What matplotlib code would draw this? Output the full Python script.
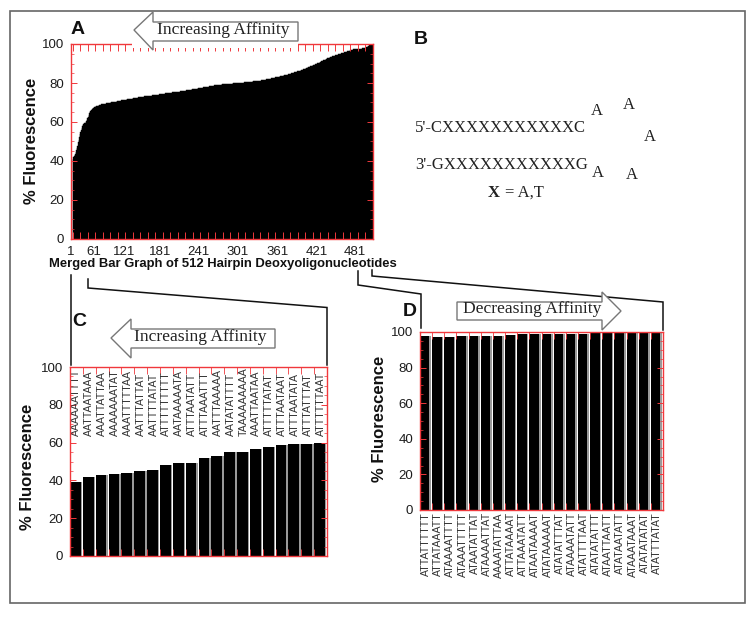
import numpy as np
import matplotlib
matplotlib.use("Agg")
from matplotlib import pyplot as plt
from matplotlib.patches import Polygon, Rectangle

W, H = 750, 617
SANS = "Liberation Sans"
SERIF = "Liberation Serif"
RED = "#f0383c"
TXT = "#1c1c1c"

# panel A, all 512 hairpins sorted by fluorescence
a_values = [
    41.0,41.8,42.5,43.2,43.8,44.5,45.5,46.5,47.8,49.5,51.0,52.5,54.0,55.0,56.0,57.0,58.0,58.6,59.0,59.2,
    59.4,59.6,60.0,60.6,61.2,62.0,62.8,63.6,64.4,65.0,65.5,66.0,66.4,66.8,67.0,67.2,67.4,67.6,67.8,68.0,
    68.1,68.2,68.3,68.4,68.5,68.6,68.7,68.8,68.9,69.0,69.0,69.1,69.2,69.2,69.3,69.4,69.4,69.5,69.6,69.6,
    69.7,69.7,69.8,69.9,69.9,70.0,70.1,70.1,70.2,70.2,70.3,70.4,70.4,70.5,70.5,70.6,70.7,70.7,70.8,70.8,
    70.9,71.0,71.0,71.1,71.1,71.2,71.2,71.3,71.4,71.4,71.5,71.5,71.6,71.6,71.7,71.7,71.8,71.8,71.9,71.9,
    72.0,72.0,72.1,72.1,72.2,72.2,72.3,72.3,72.4,72.4,72.5,72.5,72.6,72.6,72.7,72.7,72.8,72.8,72.9,72.9,
    73.0,73.0,73.1,73.1,73.1,73.2,73.2,73.3,73.3,73.3,73.4,73.4,73.5,73.5,73.5,73.6,73.6,73.7,73.7,73.8,
    73.8,73.9,73.9,74.0,74.0,74.1,74.1,74.2,74.2,74.3,74.3,74.4,74.4,74.4,74.5,74.5,74.6,74.6,74.7,74.7,
    74.8,74.8,74.8,74.9,74.9,75.0,75.0,75.0,75.1,75.1,75.2,75.2,75.2,75.3,75.3,75.3,75.4,75.4,75.4,75.5,
    75.5,75.6,75.6,75.7,75.7,75.8,75.8,75.9,75.9,76.0,76.0,76.1,76.1,76.2,76.2,76.3,76.3,76.4,76.4,76.5,
    76.5,76.6,76.6,76.7,76.7,76.8,76.8,76.9,76.9,77.0,77.0,77.1,77.1,77.2,77.2,77.3,77.4,77.4,77.5,77.5,
    77.6,77.6,77.7,77.7,77.8,77.8,77.9,77.9,78.0,78.0,78.1,78.1,78.2,78.3,78.3,78.4,78.5,78.5,78.6,78.7,
    78.7,78.8,78.8,78.9,78.9,79.0,79.0,79.0,79.1,79.1,79.1,79.2,79.2,79.2,79.3,79.3,79.3,79.4,79.4,79.4,
    79.4,79.5,79.5,79.5,79.5,79.6,79.6,79.6,79.6,79.7,79.7,79.7,79.7,79.8,79.8,79.8,79.8,79.9,79.9,79.9,
    79.9,80.0,80.0,80.0,80.1,80.1,80.1,80.1,80.2,80.2,80.2,80.2,80.3,80.3,80.3,80.4,80.4,80.4,80.5,80.5,
    80.5,80.6,80.6,80.6,80.7,80.7,80.7,80.8,80.8,80.8,80.9,80.9,80.9,81.0,81.0,81.0,81.1,81.1,81.1,81.2,
    81.2,81.3,81.3,81.4,81.4,81.5,81.5,81.6,81.7,81.7,81.8,81.9,81.9,82.0,82.1,82.2,82.2,82.3,82.4,82.4,
    82.5,82.6,82.7,82.7,82.8,82.9,82.9,83.0,83.1,83.1,83.2,83.3,83.3,83.4,83.5,83.5,83.6,83.7,83.7,83.8,
    83.9,83.9,84.0,84.1,84.1,84.2,84.3,84.4,84.5,84.5,84.6,84.7,84.8,84.9,85.0,85.1,85.2,85.3,85.4,85.5,
    85.6,85.7,85.8,85.9,86.0,86.1,86.2,86.3,86.4,86.5,86.6,86.8,86.9,87.0,87.1,87.3,87.4,87.5,87.6,87.8,
    87.9,88.0,88.1,88.3,88.4,88.5,88.6,88.8,88.9,89.0,89.1,89.3,89.4,89.5,89.7,89.8,90.0,90.1,90.3,90.4,
    90.5,90.7,90.8,91.0,91.1,91.3,91.4,91.6,91.7,91.9,92.0,92.2,92.3,92.5,92.6,92.8,92.9,93.0,93.1,93.3,
    93.4,93.5,93.6,93.7,93.8,93.9,94.0,94.1,94.2,94.3,94.4,94.5,94.6,94.7,94.8,94.9,95.0,95.1,95.2,95.3,
    95.4,95.5,95.6,95.7,95.8,95.9,96.0,96.1,96.2,96.3,96.4,96.5,96.6,96.7,96.8,96.9,97.0,97.1,97.2,97.3,
    97.3,97.3,97.3,97.4,97.4,97.4,97.4,97.4,97.5,97.5,97.5,97.5,97.5,97.6,97.7,97.8,98.0,98.0,98.0,98.2,
    98.7,98.7,98.7,99.0,99.0,99.0,99.5,99.5,99.8,99.8,99.8,100.0,
]
a_tick_labels = ["1", "61", "121", "181", "241", "301", "361", "421", "481"]
a_tick_pos = [-3, 36, 88, 149, 214, 281, 349, 417, 481]

c_values = [39, 42, 43, 43.5, 44, 45, 45.5, 48, 49, 49, 52, 53, 55, 55, 56.5, 57.5, 58.5, 59, 59, 60]
c_seqs = ["AAAAAATTTT", "AATTAATAAA", "AAATTATTAA", "AAAAAAATAT", "AAATTTTTAA",
          "AATTTATTAT", "AATTTTATAT", "ATTTTTTTTT", "AATAAAAATA", "ATTTAATATT",
          "ATTTAAATTT", "AATTTAAAAA", "AATATATTTT", "TAAAAAAAAA", "AAATTAATAA",
          "ATTTTTATAT", "ATTTAATAAT", "ATTTAATATA", "ATTTATTTAT", "ATTTTTTAAT"]

d_values = [97.5, 97.3, 97.2, 97.6, 98, 98, 98, 98.2, 98.7, 98.7,
            98.7, 99, 99, 99, 99.5, 99.5, 99.8, 99.8, 99.8, 99.9]
d_seqs = ["ATTATTTTTT", "ATTATAAATT", "ATAAAATTTT", "ATAAATTTTT", "ATAATATTAT",
          "ATAAAATTAT", "AAAATATTAA", "ATTATAAAAT", "ATTAAATATT", "ATAATAAAAT",
          "ATATAAAAAT", "ATATATTTAT", "ATAAAATATT", "ATATTTTAAT", "ATATATATTT",
          "ATAATTAATT", "ATATAATATT", "ATAAATAAAT", "ATATATATAT", "ATATTTATAT"]


def make_axes(fig, left, top, right, bottom):
    ax = fig.add_axes([left / W, 1 - bottom / H, (right - left) / W, (bottom - top) / H])
    ax.set_ylim(0, 100)
    ax.set_axisbelow(False)
    for s in ax.spines.values():
        s.set_color(RED)
        s.set_linewidth(1.0)
        s.set_zorder(6)
    ax.set_yticks(np.arange(0, 101, 20))
    ax.set_yticks(np.arange(0, 101, 5), minor=True)
    ax.tick_params(axis="y", which="major", direction="in", length=4, width=0.7, color=RED,
                   left=True, right=True, labelsize=9.5, labelcolor=TXT, pad=5)
    ax.tick_params(axis="y", which="minor", direction="in", length=2, width=0.5, color=RED,
                   left=True, right=True)
    for lab in ax.get_yticklabels():
        lab.set_fontfamily(SANS)
    return ax


def shaded_bars(ax, vals, bar_w, shade_w):
    x = np.arange(1, len(vals) + 1)
    ax.bar(x - 0.5, vals, width=bar_w, align="edge", color="black", linewidth=0, zorder=2)
    ax.bar(x - 0.5 + bar_w, vals, width=shade_w, align="edge", color="#9a9a9a", linewidth=0, zorder=2)
    ax.set_xlim(0.5, len(vals) + 0.5)
    ax.set_xticks(np.arange(0.5, len(vals) + 1), minor=True)
    ax.tick_params(axis="x", which="minor", direction="in", length=5, width=0.6, color=RED,
                   top=True, bottom=True)


def arrow(ov, pts, text, tx, ty):
    ov.add_patch(Polygon(pts, closed=True, facecolor="white", edgecolor="#777777", linewidth=1.0, zorder=5))
    ov.text(tx, ty, text, family=SERIF, fontsize=12.6, color="#222222", ha="center", va="center", zorder=6)


fig = plt.figure(figsize=(W / 100, H / 100), dpi=100, facecolor="white")

# A
ax_a = make_axes(fig, 71, 44, 373, 239)
ax_a.bar(np.arange(len(a_values)), a_values, width=1.0, align="edge", color="black",
         edgecolor="black", linewidth=0.3, zorder=2)
ax_a.set_xlim(0, 512)
ax_a.set_xticks(a_tick_pos, a_tick_labels, family=SANS)
ax_a.tick_params(axis="x", which="major", length=0, pad=5, labelsize=9.5, labelcolor=TXT)
ax_a.set_xticks(np.arange(0, 513, 12.8), minor=True)
ax_a.tick_params(axis="x", which="minor", direction="in", length=5, width=0.7, color=RED,
                 top=True, bottom=True)

# C
ax_c = make_axes(fig, 70, 367, 327, 556)
shaded_bars(ax_c, c_values, 0.84, 0.12)
ax_c.set_xticks([])
for i, s in enumerate(c_seqs):
    ax_c.text(i + 1, 63.5, s, rotation=90, family=SANS, fontsize=7.6, color="#333333",
              ha="center", va="bottom", zorder=3)

# D
ax_d = make_axes(fig, 420, 332, 663, 510)
shaded_bars(ax_d, d_values, 0.78, 0.14)
ax_d.set_xticks(np.arange(1, 21), d_seqs, rotation=90, family=SANS)
ax_d.tick_params(axis="x", which="major", length=0, pad=1.5, labelsize=7.6, labelcolor="#333333")

# overlay in pixel coordinates for everything outside the axes
ov = fig.add_axes([0, 0, 1, 1], zorder=10)
ov.set_xlim(0, W)
ov.set_ylim(H, 0)
ov.axis("off")
ov.patch.set_alpha(0)

ov.add_patch(Rectangle((10, 11), 735, 592, fill=False, edgecolor="#666666", linewidth=1.2))

# connectors from A down to C and D
line_kw = dict(color="#111111", linewidth=1.1, solid_joinstyle="miter")
ov.plot([71, 71], [275, 365], **line_kw)
ov.plot([88, 88, 327, 327], [279, 288, 307.5, 365], **line_kw)
ov.plot([358, 358, 421, 421], [271, 285, 294, 328], **line_kw)
ov.plot([372, 372, 663, 663], [270, 276, 302, 330], **line_kw)

# white gap in the top axis of A under the arrow
ov.add_patch(Rectangle((132, 41), 166, 7, facecolor="white", edgecolor="none", zorder=4))
arrow(ov, [(134, 30), (153, 12), (153, 22), (298, 22), (298, 41), (153, 41), (153, 50)],
      "Increasing Affinity", 223, 30)
arrow(ov, [(111, 338), (131, 319), (131, 329), (275, 329), (275, 348), (131, 348), (131, 358)],
      "Increasing Affinity", 200, 337)
arrow(ov, [(457, 302), (602, 302), (602, 292), (621, 311), (602, 330), (602, 320), (457, 320)],
      "Decreasing Affinity", 532, 309)

for s, x, y in [("A", 78, 30), ("B", 421, 39), ("C", 79, 322), ("D", 410, 311)]:
    ov.text(x, y, s, family=SANS, weight="bold", fontsize=14, color="#111111", ha="center", va="center")

ov.text(223, 264, "Merged Bar Graph of 512 Hairpin Deoxyoligonucleotides", family=SANS, weight="bold",
        fontsize=9.4, color="#111111", ha="center", va="center")

for x, y in [(32, 141), (28, 467), (379, 419)]:
    ov.text(x, y, "% Fluorescence", family=SANS, weight="bold", fontsize=12, color="#111111",
            rotation=90, ha="center", va="center")

# panel B hairpin
b_kw = dict(family=SERIF, fontsize=12, color="#222222", va="center")
ov.text(415, 128, "5'-CXXXXXXXXXXXC", ha="left", **b_kw)
ov.text(415, 165, "3'-GXXXXXXXXXXXG", ha="left", **b_kw)
for x, y in [(597, 111), (629, 105), (650, 137), (598, 173), (632, 175)]:
    ov.text(x, y, "A", ha="center", **b_kw)
ov.text(500, 193, "X", ha="right", weight="bold", **b_kw)
ov.text(505, 193, "= A,T", ha="left", **b_kw)

fig.savefig("out.png", dpi=100, facecolor="white")
